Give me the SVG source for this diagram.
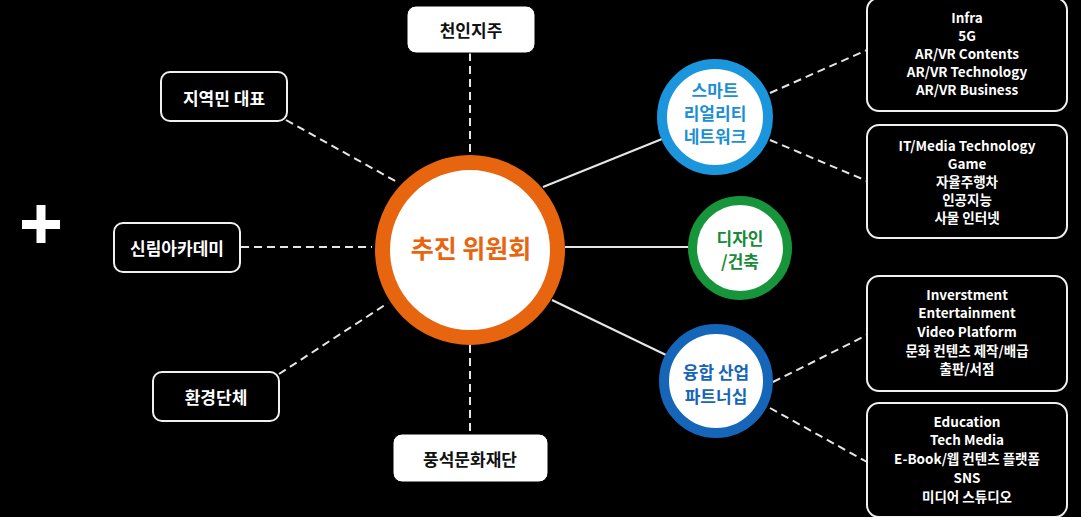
<svg xmlns="http://www.w3.org/2000/svg" width="1081" height="517" viewBox="0 0 1081 517">
<style>
text{font-family:"Noto Sans CJK KR","Noto Sans",sans-serif;font-weight:bold;text-anchor:middle;dominant-baseline:central}
.dash{stroke:#e6e6e6;stroke-width:2;stroke-dasharray:8 5;fill:none}
.solid{stroke:#e6e6e6;stroke-width:2;fill:none}
.obox{fill:#000;stroke:#f0f0f0;stroke-width:2}
.wbox{fill:#fff;stroke:#000;stroke-width:1}
.lt{fill:#fff;font-size:17px}
.bt{fill:#111;font-size:17px}
.rt{fill:#fff;font-size:13.5px;font-weight:600}
</style>
<rect width="1081" height="517" fill="#000"/>
<g id="plus" fill="#fff">
<rect x="22" y="220" width="38" height="9"/>
<rect x="36.5" y="205" width="9" height="38"/>
</g>
<g id="connectors">
<line class="dash" x1="470" y1="53" x2="470" y2="155"/>
<line class="dash" x1="470" y1="345" x2="470" y2="434"/>
<line class="dash" x1="286" y1="120" x2="397" y2="182"/>
<line class="dash" x1="241" y1="247" x2="372" y2="247"/>
<line class="dash" x1="279" y1="374" x2="388" y2="303"/>
<line class="solid" x1="543" y1="187" x2="662" y2="139"/>
<line class="solid" x1="565" y1="247" x2="690" y2="247"/>
<line class="solid" x1="552" y1="300" x2="666" y2="355"/>
<line class="dash" x1="770" y1="93" x2="867" y2="50"/>
<line class="dash" x1="770" y1="140" x2="867" y2="181"/>
<line class="dash" x1="773" y1="382" x2="867" y2="335"/>
<line class="dash" x1="770" y1="408" x2="867" y2="462"/>
</g>
<g id="center">
<circle cx="470" cy="250" r="87.5" fill="#fff" stroke="#e8650f" stroke-width="15"/>
<text x="471" y="247" font-size="25" fill="#e8650f">추진 위원회</text>
</g>
<g id="smart">
<circle cx="715" cy="117" r="53" fill="#fff" stroke="#1b96dc" stroke-width="10"/>
<text x="715" y="89" font-size="17" fill="#1b8fd4">스마트</text>
<text x="715" y="112" font-size="17" fill="#1b8fd4">리얼리티</text>
<text x="715" y="135" font-size="17" fill="#1b8fd4">네트워크</text>
</g>
<g id="design">
<circle cx="740" cy="248" r="47.5" fill="#fff" stroke="#17953a" stroke-width="9"/>
<text x="740" y="237" font-size="17" fill="#1a8a3a">디자인</text>
<text x="740" y="260" font-size="17" fill="#1a8a3a">/건축</text>
</g>
<g id="fusion">
<circle cx="716" cy="381" r="52" fill="#fff" stroke="#1565b8" stroke-width="10"/>
<text x="716" y="371" font-size="17" fill="#1565b8">융합 산업</text>
<text x="716" y="395" font-size="17" fill="#1565b8">파트너십</text>
</g>
<g id="cheonin">
<rect class="wbox" x="407" y="6" width="128" height="47" rx="9"/>
<text class="bt" x="471" y="29">천인지주</text>
</g>
<g id="pungseok">
<rect class="wbox" x="393" y="434" width="155" height="48" rx="9"/>
<text class="bt" x="470" y="458">풍석문화재단</text>
</g>
<g id="jiyeok">
<rect class="obox" x="161" y="72" width="126" height="49" rx="9"/>
<text class="lt" x="224" y="97">지역민 대표</text>
</g>
<g id="sillim">
<rect class="obox" x="114" y="223" width="126" height="49" rx="9"/>
<text class="lt" x="177" y="247">신림아카데미</text>
</g>
<g id="hwangyeong">
<rect class="obox" x="153" y="372" width="126" height="49" rx="9"/>
<text class="lt" x="216" y="396">환경단체</text>
</g>
<g id="box1">
<rect class="obox" x="867" y="-2" width="200" height="113" rx="12"/>
<text class="rt" x="967" y="17">Infra</text>
<text class="rt" x="967" y="35">5G</text>
<text class="rt" x="967" y="53">AR/VR Contents</text>
<text class="rt" x="967" y="71">AR/VR Technology</text>
<text class="rt" x="967" y="89">AR/VR Business</text>
</g>
<g id="box2">
<rect class="obox" x="867" y="125" width="200" height="113" rx="12"/>
<text class="rt" x="967" y="145">IT/Media Technology</text>
<text class="rt" x="967" y="163">Game</text>
<text class="rt" x="967" y="181">자율주행차</text>
<text class="rt" x="967" y="199">인공지능</text>
<text class="rt" x="967" y="217">사물 인터넷</text>
</g>
<g id="box3">
<rect class="obox" x="867" y="276" width="200" height="115" rx="12"/>
<text class="rt" x="967" y="294">Inverstment</text>
<text class="rt" x="967" y="312">Entertainment</text>
<text class="rt" x="967" y="331">Video Platform</text>
<text class="rt" x="967" y="350">문화 컨텐츠 제작/배급</text>
<text class="rt" x="967" y="368">출판/서점</text>
</g>
<g id="box4">
<rect class="obox" x="867" y="403" width="200" height="114" rx="12"/>
<text class="rt" x="967" y="421">Education</text>
<text class="rt" x="967" y="439">Tech Media</text>
<text class="rt" x="967" y="458">E-Book/웹 컨텐츠 플랫폼</text>
<text class="rt" x="967" y="477">SNS</text>
<text class="rt" x="967" y="496">미디어 스튜디오</text>
</g>
</svg>
